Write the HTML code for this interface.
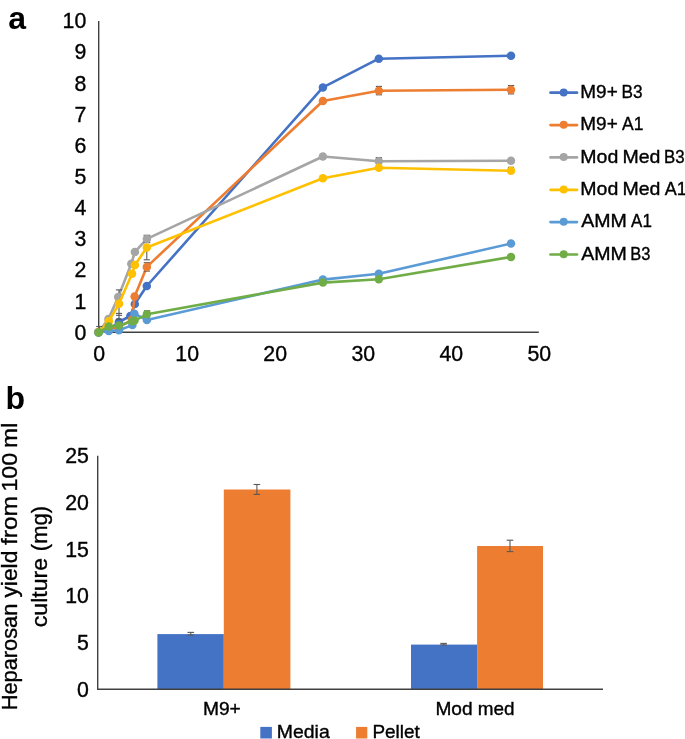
<!DOCTYPE html><html><head><meta charset="utf-8"><style>
html,body{margin:0;padding:0;background:#fff;width:685px;height:739px;overflow:hidden}
svg{display:block;will-change:transform}
text{font-family:"Liberation Sans", sans-serif;fill:#000;font-kerning:none;stroke:#000;stroke-width:0.35px}
</style></head><body>
<svg width="685" height="739" viewBox="0 0 685 739">
<rect width="685" height="739" fill="#fff"/>
<text x="8.3" y="28.6" font-size="32" font-weight="bold" style="stroke-width:0">a</text>
<text x="5.4" y="408.6" font-size="32" font-weight="bold" style="stroke-width:0">b</text>
<line x1="98.7" y1="21.0" x2="98.7" y2="332.3" stroke="#404040" stroke-width="1.4"/>
<line x1="98.0" y1="332.3" x2="538.8" y2="332.3" stroke="#404040" stroke-width="1.5"/>
<text x="86.3" y="339.6" font-size="21.3" text-anchor="end">0</text>
<text x="86.3" y="308.5" font-size="21.3" text-anchor="end">1</text>
<text x="86.3" y="277.3" font-size="21.3" text-anchor="end">2</text>
<text x="86.3" y="246.2" font-size="21.3" text-anchor="end">3</text>
<text x="86.3" y="215.1" font-size="21.3" text-anchor="end">4</text>
<text x="86.3" y="184.0" font-size="21.3" text-anchor="end">5</text>
<text x="86.3" y="152.8" font-size="21.3" text-anchor="end">6</text>
<text x="86.3" y="121.7" font-size="21.3" text-anchor="end">7</text>
<text x="86.3" y="90.6" font-size="21.3" text-anchor="end">8</text>
<text x="86.3" y="59.4" font-size="21.3" text-anchor="end">9</text>
<text x="86.3" y="28.3" font-size="21.3" text-anchor="end">10</text>
<text x="99.2" y="360.7" font-size="21.3" text-anchor="middle">0</text>
<text x="187.2" y="360.7" font-size="21.3" text-anchor="middle">10</text>
<text x="275.2" y="360.7" font-size="21.3" text-anchor="middle">20</text>
<text x="363.3" y="360.7" font-size="21.3" text-anchor="middle">30</text>
<text x="451.3" y="360.7" font-size="21.3" text-anchor="middle">40</text>
<text x="539.3" y="360.7" font-size="21.3" text-anchor="middle">50</text>
<polyline points="98.5,332.3 108.7,329.5 118.9,322.0 130.3,316.0 134.8,304.0 146.8,286.0 322.9,87.4 378.8,58.7 511.0,55.8" fill="none" stroke="#4472C4" stroke-width="2.6" stroke-linejoin="round" stroke-linecap="round"/>
<circle cx="98.5" cy="332.3" r="4.25" fill="#4472C4"/>
<circle cx="108.7" cy="329.5" r="4.25" fill="#4472C4"/>
<circle cx="118.9" cy="322.0" r="4.25" fill="#4472C4"/>
<circle cx="130.3" cy="316.0" r="4.25" fill="#4472C4"/>
<circle cx="134.8" cy="304.0" r="4.25" fill="#4472C4"/>
<circle cx="146.8" cy="286.0" r="4.25" fill="#4472C4"/>
<circle cx="322.9" cy="87.4" r="4.25" fill="#4472C4"/>
<circle cx="378.8" cy="58.7" r="4.25" fill="#4472C4"/>
<circle cx="511.0" cy="55.8" r="4.25" fill="#4472C4"/>
<polyline points="98.5,332.0 108.7,329.5 118.9,327.3 132.0,319.5 134.6,296.5 146.8,266.9 322.9,101.0 378.8,90.7 511.0,89.7" fill="none" stroke="#ED7D31" stroke-width="2.6" stroke-linejoin="round" stroke-linecap="round"/>
<line x1="146.8" y1="262.7" x2="146.8" y2="271.1" stroke="#595959" stroke-width="1.1"/>
<line x1="143.7" y1="262.7" x2="149.9" y2="262.7" stroke="#595959" stroke-width="1.1"/>
<line x1="143.7" y1="271.1" x2="149.9" y2="271.1" stroke="#595959" stroke-width="1.1"/>
<line x1="511.1" y1="85.5" x2="511.1" y2="93.9" stroke="#595959" stroke-width="1.1"/>
<line x1="508.0" y1="85.5" x2="514.2" y2="85.5" stroke="#595959" stroke-width="1.1"/>
<line x1="508.0" y1="93.9" x2="514.2" y2="93.9" stroke="#595959" stroke-width="1.1"/>
<line x1="378.9" y1="86.4" x2="378.9" y2="94.8" stroke="#595959" stroke-width="1.1"/>
<line x1="375.8" y1="86.4" x2="382.0" y2="86.4" stroke="#595959" stroke-width="1.1"/>
<line x1="375.8" y1="94.8" x2="382.0" y2="94.8" stroke="#595959" stroke-width="1.1"/>
<circle cx="98.5" cy="332.0" r="4.25" fill="#ED7D31"/>
<circle cx="108.7" cy="329.5" r="4.25" fill="#ED7D31"/>
<circle cx="118.9" cy="327.3" r="4.25" fill="#ED7D31"/>
<circle cx="132.0" cy="319.5" r="4.25" fill="#ED7D31"/>
<circle cx="134.6" cy="296.5" r="4.25" fill="#ED7D31"/>
<circle cx="146.8" cy="266.9" r="4.25" fill="#ED7D31"/>
<circle cx="322.9" cy="101.0" r="4.25" fill="#ED7D31"/>
<circle cx="378.8" cy="90.7" r="4.25" fill="#ED7D31"/>
<circle cx="511.0" cy="89.7" r="4.25" fill="#ED7D31"/>
<polyline points="98.5,332.0 108.4,319.0 118.2,297.1 131.3,263.7 134.9,251.9 146.9,238.9 322.9,156.5 378.8,161.2 511.0,160.7" fill="none" stroke="#A5A5A5" stroke-width="2.6" stroke-linejoin="round" stroke-linecap="round"/>
<line x1="119.0" y1="289.9" x2="119.0" y2="297.4" stroke="#595959" stroke-width="1.1"/>
<line x1="115.9" y1="289.9" x2="122.1" y2="289.9" stroke="#595959" stroke-width="1.1"/>
<line x1="115.9" y1="294.4" x2="122.1" y2="294.4" stroke="#595959" stroke-width="1.1"/>
<line x1="146.9" y1="235.3" x2="146.9" y2="242.6" stroke="#595959" stroke-width="1.1"/>
<line x1="143.5" y1="235.3" x2="150.3" y2="235.3" stroke="#595959" stroke-width="1.1"/>
<line x1="143.5" y1="242.6" x2="150.3" y2="242.6" stroke="#595959" stroke-width="1.1"/>
<line x1="378.8" y1="157.6" x2="378.8" y2="160.8" stroke="#595959" stroke-width="1.1"/>
<line x1="375.7" y1="157.6" x2="381.9" y2="157.6" stroke="#595959" stroke-width="1.1"/>
<circle cx="98.5" cy="332.0" r="4.25" fill="#A5A5A5"/>
<circle cx="108.4" cy="319.0" r="4.25" fill="#A5A5A5"/>
<circle cx="118.2" cy="297.1" r="4.25" fill="#A5A5A5"/>
<circle cx="131.3" cy="263.7" r="4.25" fill="#A5A5A5"/>
<circle cx="134.9" cy="251.9" r="4.25" fill="#A5A5A5"/>
<circle cx="146.9" cy="238.9" r="4.25" fill="#A5A5A5"/>
<circle cx="322.9" cy="156.5" r="4.25" fill="#A5A5A5"/>
<circle cx="378.8" cy="161.2" r="4.25" fill="#A5A5A5"/>
<circle cx="511.0" cy="160.7" r="4.25" fill="#A5A5A5"/>
<polyline points="98.5,332.0 108.8,321.2 119.0,303.8 132.0,273.8 134.9,265.0 146.8,247.5 322.9,178.2 378.8,167.7 511.0,170.8" fill="none" stroke="#FFC000" stroke-width="2.6" stroke-linejoin="round" stroke-linecap="round"/>
<line x1="119.0" y1="303.9" x2="119.0" y2="319.2" stroke="#595959" stroke-width="1.1"/>
<line x1="115.9" y1="313.4" x2="122.1" y2="313.4" stroke="#595959" stroke-width="1.1"/>
<line x1="115.9" y1="315.3" x2="122.1" y2="315.3" stroke="#595959" stroke-width="1.1"/>
<line x1="115.9" y1="319.2" x2="122.1" y2="319.2" stroke="#595959" stroke-width="1.1"/>
<line x1="146.8" y1="247.5" x2="146.8" y2="259.8" stroke="#595959" stroke-width="1.1"/>
<line x1="143.7" y1="259.8" x2="149.9" y2="259.8" stroke="#595959" stroke-width="1.1"/>
<line x1="511.0" y1="167.3" x2="511.0" y2="170.8" stroke="#595959" stroke-width="1.1"/>
<line x1="507.9" y1="167.3" x2="514.1" y2="167.3" stroke="#595959" stroke-width="1.1"/>
<circle cx="98.5" cy="332.0" r="4.25" fill="#FFC000"/>
<circle cx="108.8" cy="321.2" r="4.25" fill="#FFC000"/>
<circle cx="119.0" cy="303.8" r="4.25" fill="#FFC000"/>
<circle cx="132.0" cy="273.8" r="4.25" fill="#FFC000"/>
<circle cx="134.9" cy="265.0" r="4.25" fill="#FFC000"/>
<circle cx="146.8" cy="247.5" r="4.25" fill="#FFC000"/>
<circle cx="322.9" cy="178.2" r="4.25" fill="#FFC000"/>
<circle cx="378.8" cy="167.7" r="4.25" fill="#FFC000"/>
<circle cx="511.0" cy="170.8" r="4.25" fill="#FFC000"/>
<polyline points="98.5,332.4 108.8,331.0 118.9,330.2 132.4,325.1 134.4,313.7 146.9,320.1 322.9,279.6 378.8,273.8 511.0,243.5" fill="none" stroke="#5B9BD5" stroke-width="2.6" stroke-linejoin="round" stroke-linecap="round"/>
<circle cx="98.5" cy="332.4" r="4.25" fill="#5B9BD5"/>
<circle cx="108.8" cy="331.0" r="4.25" fill="#5B9BD5"/>
<circle cx="118.9" cy="330.2" r="4.25" fill="#5B9BD5"/>
<circle cx="132.4" cy="325.1" r="4.25" fill="#5B9BD5"/>
<circle cx="134.4" cy="313.7" r="4.25" fill="#5B9BD5"/>
<circle cx="146.9" cy="320.1" r="4.25" fill="#5B9BD5"/>
<circle cx="322.9" cy="279.6" r="4.25" fill="#5B9BD5"/>
<circle cx="378.8" cy="273.8" r="4.25" fill="#5B9BD5"/>
<circle cx="511.0" cy="243.5" r="4.25" fill="#5B9BD5"/>
<polyline points="98.6,332.4 108.8,326.5 118.9,325.6 132.3,321.2 134.5,320.6 146.9,314.3 322.9,282.6 378.8,279.2 511.0,256.9" fill="none" stroke="#70AD47" stroke-width="2.6" stroke-linejoin="round" stroke-linecap="round"/>
<line x1="147.1" y1="310.8" x2="147.1" y2="314.3" stroke="#595959" stroke-width="1.1"/>
<line x1="144.0" y1="310.8" x2="150.2" y2="310.8" stroke="#595959" stroke-width="1.1"/>
<line x1="99.3" y1="326.5" x2="99.3" y2="332.0" stroke="#595959" stroke-width="1.1"/>
<line x1="96.2" y1="326.5" x2="102.4" y2="326.5" stroke="#595959" stroke-width="1.1"/>
<circle cx="98.6" cy="332.4" r="4.25" fill="#70AD47"/>
<circle cx="108.8" cy="326.5" r="4.25" fill="#70AD47"/>
<circle cx="118.9" cy="325.6" r="4.25" fill="#70AD47"/>
<circle cx="132.3" cy="321.2" r="4.25" fill="#70AD47"/>
<circle cx="134.5" cy="320.6" r="4.25" fill="#70AD47"/>
<circle cx="146.9" cy="314.3" r="4.25" fill="#70AD47"/>
<circle cx="322.9" cy="282.6" r="4.25" fill="#70AD47"/>
<circle cx="378.8" cy="279.2" r="4.25" fill="#70AD47"/>
<circle cx="511.0" cy="256.9" r="4.25" fill="#70AD47"/>
<line x1="550.5" y1="92.7" x2="577.0" y2="92.7" stroke="#4472C4" stroke-width="2.7" stroke-linecap="round"/>
<circle cx="563.7" cy="92.4" r="4.0" fill="#4472C4"/>
<text x="580.35" y="98.0" font-size="17.9" textLength="37.39" lengthAdjust="spacingAndGlyphs">M9+</text>
<text x="621.59" y="98.0" font-size="17.9" textLength="21.07" lengthAdjust="spacingAndGlyphs">B3</text>
<line x1="550.5" y1="125.1" x2="577.0" y2="125.1" stroke="#ED7D31" stroke-width="2.7" stroke-linecap="round"/>
<circle cx="563.7" cy="124.8" r="4.0" fill="#ED7D31"/>
<text x="580.35" y="130.4" font-size="17.9" textLength="37.39" lengthAdjust="spacingAndGlyphs">M9+</text>
<text x="622.07" y="130.4" font-size="17.9" textLength="21.39" lengthAdjust="spacingAndGlyphs">A1</text>
<line x1="550.5" y1="157.4" x2="577.0" y2="157.4" stroke="#A5A5A5" stroke-width="2.7" stroke-linecap="round"/>
<circle cx="563.7" cy="157.1" r="4.0" fill="#A5A5A5"/>
<text x="580.30" y="162.7" font-size="17.9" textLength="37.96" lengthAdjust="spacingAndGlyphs">Mod</text>
<text x="622.50" y="162.7" font-size="17.9" textLength="37.96" lengthAdjust="spacingAndGlyphs">Med</text>
<text x="664.12" y="162.7" font-size="17.9" textLength="20.62" lengthAdjust="spacingAndGlyphs">B3</text>
<line x1="550.5" y1="189.8" x2="577.0" y2="189.8" stroke="#FFC000" stroke-width="2.7" stroke-linecap="round"/>
<circle cx="563.7" cy="189.5" r="4.0" fill="#FFC000"/>
<text x="580.30" y="195.1" font-size="17.9" textLength="37.96" lengthAdjust="spacingAndGlyphs">Mod</text>
<text x="622.50" y="195.1" font-size="17.9" textLength="37.96" lengthAdjust="spacingAndGlyphs">Med</text>
<text x="664.66" y="195.1" font-size="17.9" textLength="22.01" lengthAdjust="spacingAndGlyphs">A1</text>
<line x1="550.5" y1="222.1" x2="577.0" y2="222.1" stroke="#5B9BD5" stroke-width="2.7" stroke-linecap="round"/>
<circle cx="563.7" cy="221.8" r="4.0" fill="#5B9BD5"/>
<text x="581.26" y="227.4" font-size="17.9" textLength="45.64" lengthAdjust="spacingAndGlyphs">AMM</text>
<text x="631.07" y="227.4" font-size="17.9" textLength="20.76" lengthAdjust="spacingAndGlyphs">A1</text>
<line x1="550.5" y1="254.5" x2="577.0" y2="254.5" stroke="#70AD47" stroke-width="2.7" stroke-linecap="round"/>
<circle cx="563.7" cy="254.2" r="4.0" fill="#70AD47"/>
<text x="581.26" y="259.8" font-size="17.9" textLength="45.64" lengthAdjust="spacingAndGlyphs">AMM</text>
<text x="630.35" y="259.8" font-size="17.9" textLength="20.18" lengthAdjust="spacingAndGlyphs">B3</text>
<text x="88.9" y="696.6" font-size="21.3" text-anchor="end">0</text>
<text x="88.9" y="649.9" font-size="21.3" text-anchor="end">5</text>
<text x="88.9" y="603.2" font-size="21.3" text-anchor="end">10</text>
<text x="88.9" y="556.6" font-size="21.3" text-anchor="end">15</text>
<text x="88.9" y="509.9" font-size="21.3" text-anchor="end">20</text>
<text x="88.9" y="463.2" font-size="21.3" text-anchor="end">25</text>
<rect x="157.4" y="634.1" width="66.4" height="55.1" fill="#4472C4"/>
<rect x="223.8" y="489.5" width="66.6" height="199.7" fill="#ED7D31"/>
<rect x="411.0" y="644.6" width="66.1" height="44.6" fill="#4472C4"/>
<rect x="477.1" y="546.0" width="65.9" height="143.2" fill="#ED7D31"/>
<line x1="190.8" y1="632.4" x2="190.8" y2="635.1" stroke="#595959" stroke-width="1.1"/>
<line x1="187.5" y1="632.4" x2="194.1" y2="632.4" stroke="#595959" stroke-width="1.1"/>
<line x1="187.5" y1="635.1" x2="194.1" y2="635.1" stroke="#595959" stroke-width="1.1"/>
<line x1="256.9" y1="484.5" x2="256.9" y2="494.4" stroke="#595959" stroke-width="1.1"/>
<line x1="253.6" y1="484.5" x2="260.2" y2="484.5" stroke="#595959" stroke-width="1.1"/>
<line x1="253.6" y1="494.4" x2="260.2" y2="494.4" stroke="#595959" stroke-width="1.1"/>
<line x1="443.6" y1="643.4" x2="443.6" y2="644.9" stroke="#595959" stroke-width="1.1"/>
<line x1="440.3" y1="643.4" x2="446.9" y2="643.4" stroke="#595959" stroke-width="1.1"/>
<line x1="440.3" y1="644.9" x2="446.9" y2="644.9" stroke="#595959" stroke-width="1.1"/>
<line x1="510.0" y1="540.2" x2="510.0" y2="551.6" stroke="#595959" stroke-width="1.1"/>
<line x1="506.7" y1="540.2" x2="513.3" y2="540.2" stroke="#595959" stroke-width="1.1"/>
<line x1="506.7" y1="551.6" x2="513.3" y2="551.6" stroke="#595959" stroke-width="1.1"/>
<line x1="97.7" y1="455.8" x2="97.7" y2="689.2" stroke="#404040" stroke-width="1.4"/>
<line x1="97.0" y1="689.2" x2="603.0" y2="689.2" stroke="#404040" stroke-width="1.5"/>
<text x="202.92" y="715.10" font-size="17.9" textLength="37.92" lengthAdjust="spacingAndGlyphs">M9+</text>
<text x="435.43" y="714.90" font-size="17.9" textLength="37.20" lengthAdjust="spacingAndGlyphs">Mod</text>
<text x="477.74" y="714.90" font-size="17.9" textLength="36.77" lengthAdjust="spacingAndGlyphs">med</text>
<rect x="260.3" y="726.9" width="11.6" height="11.6" fill="#4472C4"/>
<text x="276.81" y="737.70" font-size="17.9" textLength="52.89" lengthAdjust="spacingAndGlyphs">Media</text>
<rect x="356.1" y="726.9" width="11.2" height="11.6" fill="#ED7D31"/>
<text x="372.45" y="737.70" font-size="17.9" textLength="47.39" lengthAdjust="spacingAndGlyphs">Pellet</text>
<g transform="translate(16.9,0) rotate(-90)">
<text x="-710.29" y="0" font-size="22.8" textLength="106.60" lengthAdjust="spacingAndGlyphs">Heparosan</text>
<text x="-597.56" y="0" font-size="22.8" textLength="46.93" lengthAdjust="spacingAndGlyphs">yield</text>
<text x="-544.95" y="0" font-size="22.8" textLength="48.96" lengthAdjust="spacingAndGlyphs">from</text>
<text x="-491.56" y="0" font-size="22.8" textLength="38.56" lengthAdjust="spacingAndGlyphs">100</text>
<text x="-448.10" y="0" font-size="22.8" textLength="25.41" lengthAdjust="spacingAndGlyphs">ml</text>
</g>
<g transform="translate(47.3,0) rotate(-90)">
<text x="-627.28" y="0" font-size="22.8" textLength="69.41" lengthAdjust="spacingAndGlyphs">culture</text>
<text x="-551.16" y="0" font-size="22.8" textLength="45.12" lengthAdjust="spacingAndGlyphs">(mg)</text>
</g>
</svg></body></html>
